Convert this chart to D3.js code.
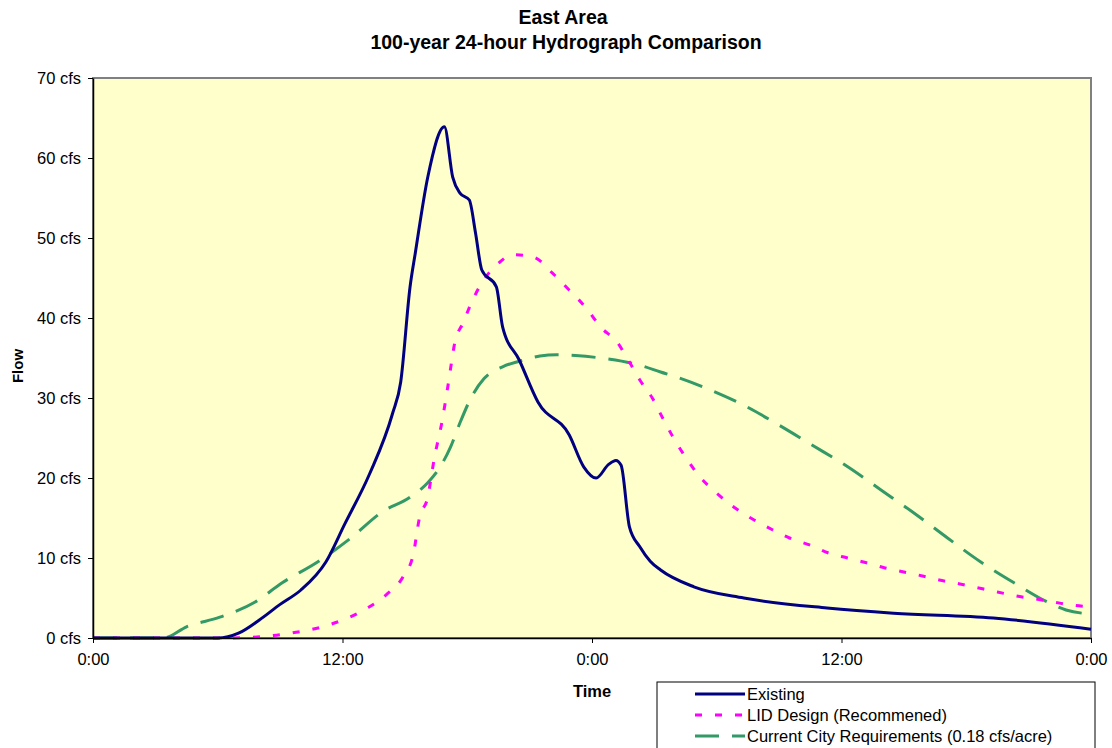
<!DOCTYPE html>
<html>
<head>
<script src="https://cdn.jsdelivr.net/npm/d3@7"></script>
<style>
  body { margin: 0; background: #ffffff; }
  svg { font-family: "Liberation Sans", Arial, sans-serif; }
</style>
</head>
<body>
<div id="chart"></div>
<script>

    // hours since start, flow in cfs
    var existingHours = [0, 6, 7, 8, 9, 10, 11.2, 12.1, 13.3, 14.4, 14.8, 15.25, 15.5, 16.1, 16.9, 17.3, 17.65, 18.1, 18.4, 18.7, 19.4, 19.7, 20.5, 21.4, 22.9, 23.6, 24.2, 24.8, 25.15, 25.4, 25.8, 26.3, 26.8, 27.3, 28.9, 31.3, 35.3, 38.5, 43.3, 48];
    var existingFlow  = [0, 0, 0.6, 2.25, 4.2, 6, 9.5, 14.2, 20.5, 28, 32, 43.9, 48.1, 57.6, 63.9, 57.6, 55.6, 54.75, 50.6, 46, 43.9, 38.9, 34.75, 29.5, 25.4, 21.4, 20, 21.7, 22.2, 21.6, 13.9, 11.4, 9.6, 8.5, 6.4, 5, 3.75, 3.1, 2.5, 1.1];

    var lidHours = [0, 6.5, 7.7, 9.5, 11.3, 13.2, 14.1, 14.9, 15.4, 15.7, 16.1, 16.4, 16.8, 17.1, 17.4, 17.8, 18.2, 18.7, 19.4, 20.2, 21.2, 22.1, 22.9, 23.8, 24.4, 25.2, 25.8, 26.3, 26.9, 27.4, 27.9, 28.5, 29.2, 30, 30.8, 31.8, 32.7, 33.5, 34.5, 35.4, 36.3, 37.2, 38.1, 39, 39.9, 40.7, 41.7, 42.6, 43.5, 44.4, 45.3, 46.2, 47.1, 48];
    var lidFlow  = [0, 0, 0.1, 0.6, 1.6, 3.75, 5.4, 7.6, 10.4, 15, 17.6, 22.25, 27.25, 32, 36.9, 39.4, 41.9, 44.4, 46.6, 47.9, 47.6, 45.6, 43.5, 41, 38.9, 37, 34.5, 32.25, 30, 27.5, 25.1, 22.6, 20.1, 18.1, 16.4, 14.75, 13.5, 12.5, 11.6, 10.6, 10, 9.4, 8.75, 8.25, 7.75, 7.25, 6.75, 6.25, 5.75, 5.25, 4.9, 4.5, 4.1, 3.9];

    var cityHours = [0, 3.4, 4.5, 6.1, 7.8, 9.1, 10.8, 12.4, 13.9, 15.25, 16.1, 16.7, 17.2, 17.65, 18.2, 18.8, 19.7, 20.5, 21.5, 22.3, 23.2, 24.7, 26.3, 27.3, 28.1, 29.7, 31.3, 33, 34.6, 36.3, 37.9, 39.5, 41.1, 42.7, 44.3, 45.9, 46.8, 48];
    var cityFlow  = [0, 0, 1.4, 2.6, 4.5, 6.9, 9.5, 12.5, 15.75, 17.6, 19.4, 21.4, 23.9, 26.9, 30.1, 32.4, 33.9, 34.6, 35.25, 35.4, 35.3, 34.9, 34.1, 33.25, 32.6, 31, 29.1, 26.6, 24.1, 21.4, 18.5, 15.6, 12.5, 9.5, 6.9, 4.5, 3.5, 3.0];

    var seriesNames = ['Existing', 'LID Design (Recommened)', 'Current City Requirements (0.18 cfs/acre)'];
    var xTickHours = [0, 12, 24, 36, 48];
    var xTickLabels = ['0:00', '12:00', '0:00', '12:00', '0:00'];
    var yTicks = [0, 10, 20, 30, 40, 50, 60, 70];

    var colors = ['#000080', '#FF00FF', '#339966'];
    var dashes = [null, '7,13', '24,13'];

    var width = 1112;
    var height = 748;
    var margin = { top: 78, left: 93, right: 21, bottom: 110 };
    var plotW = width - margin.left - margin.right;
    var plotH = height - margin.top - margin.bottom;

    var svg = d3.select('#chart').append('svg')
        .attr('width', width)
        .attr('height', height);

    var x = d3.scaleLinear().domain([0, 48]).range([0, plotW]);
    var y = d3.scaleLinear().domain([0, 70]).range([plotH, 0]);

    var g = svg.append('g')
        .attr('transform', 'translate(' + margin.left + ',' + margin.top + ')');

    g.append('rect')
        .attr('width', plotW)
        .attr('height', plotH)
        .attr('fill', '#FFFFCC')
        .attr('stroke', '#808080')
        .attr('stroke-width', 2);

    var series = [
        { name: seriesNames[0], hours: existingHours, flow: existingFlow },
        { name: seriesNames[1], hours: lidHours, flow: lidFlow },
        { name: seriesNames[2], hours: cityHours, flow: cityFlow }
    ];

    var line = d3.line()
        .x(function(d) { return x(d[0]); })
        .y(function(d) { return y(d[1]); })
        .curve(d3.curveMonotoneX);

    // draw city first, then LID, then existing on top
    [2, 1, 0].forEach(function(i) {
        var s = series[i];
        var pts = s.hours.map(function(h, j) { return [h, s.flow[j]]; });
        g.append('path')
            .datum(pts)
            .attr('d', line)
            .attr('fill', 'none')
            .attr('stroke', colors[i])
            .attr('stroke-width', 3)
            .attr('stroke-dasharray', dashes[i]);
    });

    // axes
    var yAxis = g.append('g')
        .call(d3.axisLeft(y).tickValues(yTicks).tickSize(5).tickSizeOuter(0)
            .tickFormat(function(d) { return d + ' cfs'; }));
    var xAxis = g.append('g')
        .attr('transform', 'translate(0,' + plotH + ')')
        .call(d3.axisBottom(x).tickValues(xTickHours).tickSize(5).tickSizeOuter(0)
            .tickFormat(function(d, i) { return xTickLabels[i]; }));

    [yAxis, xAxis].forEach(function(a) {
        a.select('.domain').attr('stroke', '#000').attr('stroke-width', 1.5);
        a.selectAll('.tick line').attr('stroke', '#000');
        a.selectAll('.tick text')
            .attr('font-size', 16.5)
            .attr('font-family', '"Liberation Sans", Arial, sans-serif')
            .attr('fill', '#000');
    });
    yAxis.selectAll('.tick text').attr('x', -12);
    xAxis.selectAll('.tick text').attr('y', 15);

    // titles
    svg.append('text')
        .attr('x', 563).attr('y', 24)
        .attr('text-anchor', 'middle')
        .attr('font-size', 19.5).attr('font-weight', 'bold')
        .text('East Area');
    svg.append('text')
        .attr('x', 566).attr('y', 49)
        .attr('text-anchor', 'middle')
        .attr('font-size', 19.5).attr('font-weight', 'bold')
        .text('100-year 24-hour Hydrograph Comparison');

    svg.append('text')
        .attr('x', margin.left + plotW / 2).attr('y', 697)
        .attr('text-anchor', 'middle')
        .attr('font-size', 16.5).attr('font-weight', 'bold')
        .text('Time');

    svg.append('text')
        .attr('transform', 'translate(23,' + (margin.top + plotH / 2 + 8) + ') rotate(-90)')
        .attr('text-anchor', 'middle')
        .attr('font-size', 15).attr('font-weight', 'bold')
        .text('Flow');

    // legend
    var legend = svg.append('g')
        .attr('transform', 'translate(657,682)');

    legend.append('rect')
        .attr('width', 438)
        .attr('height', 90)
        .attr('fill', '#fff')
        .attr('stroke', '#000')
        .attr('stroke-width', 1);

    var entries = legend.selectAll('g.legend-entry')
        .data(series)
        .enter()
        .append('g')
        .attr('class', 'legend-entry')
        .attr('transform', function(d, i) { return 'translate(0,' + (12 + i * 21) + ')'; });

    entries.append('line')
        .attr('x1', 38).attr('x2', 88)
        .attr('stroke', function(d, i) { return colors[i]; })
        .attr('stroke-width', 3)
        .attr('stroke-dasharray', function(d, i) { return dashes[i]; });

    entries.append('text')
        .attr('x', 90)
        .attr('dy', '0.35em')
        .attr('font-size', 16.5)
        .attr('fill', '#000')
        .text(function(d) { return d.name; });

</script>
</body>
</html>
